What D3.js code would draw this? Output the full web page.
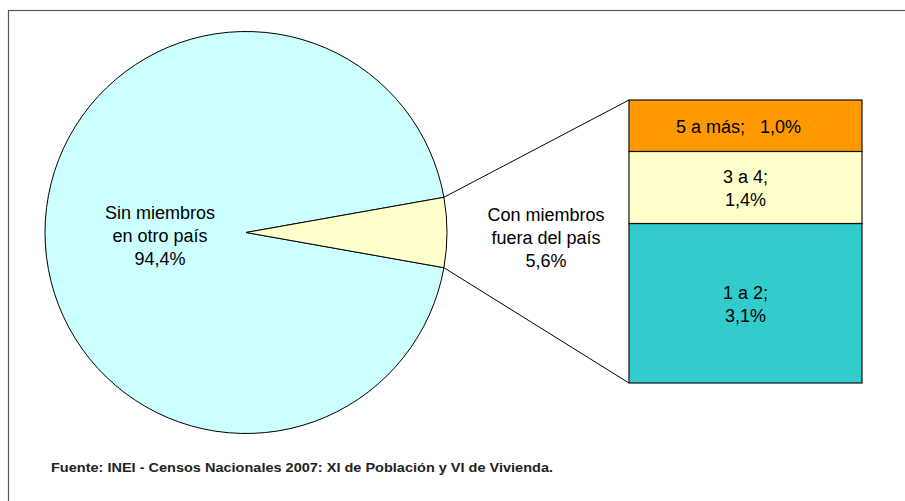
<!DOCTYPE html>
<html>
<head>
<meta charset="utf-8">
<script src="https://cdn.jsdelivr.net/npm/d3@7"></script>
<style>
  html, body { margin: 0; padding: 0; background: #fff; }
  svg { display: block; }
  text { font-family: "Liberation Sans", Arial, sans-serif; fill: #000; }
</style>
</head>
<body>
<svg id="chart" width="905" height="501"></svg>
<script>
// ---- Data ----
const pieCategories = ["Sin miembros en otro país", "Con miembros fuera del país"];
const pieValues = [94.4, 5.6];
const pieLabelLines = [["Sin miembros", "en otro país", "94,4%"], ["Con miembros", "fuera del país", "5,6%"]];
const pieColors = ["#CCFFFF", "#FFFFCC"];

const barCategories = ["1 a 2", "3 a 4", "5 a más"];
const barValues = [3.1, 1.4, 1.0];
const barLabelLines = [["1 a 2;", "3,1%"], ["3 a 4;", "1,4%"], ["5 a más;   1,0%"]];
const barColors = ["#33CCCC", "#FFFFCC", "#FF9900"];

const sourceText = "Fuente: INEI - Censos Nacionales 2007: XI de Población y VI de Vivienda.";

// ---- Layout ----
const svg = d3.select("#chart");
const W = 905, H = 501;

// outer frame (right/bottom edges fall outside the view)
svg.append("rect")
  .attr("x", 8.5).attr("y", 10.5)
  .attr("width", W).attr("height", H)
  .attr("fill", "none").attr("stroke", "#555").attr("stroke-width", 1.2);

const cx = 246, cy = 232.5, R = 201;
const total = d3.sum(pieValues);
const smallFrac = pieValues[1] / total;
const start = Math.PI / 2 + smallFrac * Math.PI;

const pie = d3.pie().sort(null).startAngle(start).endAngle(start + 2 * Math.PI);
const arcs = pie(pieValues);
const arcGen = d3.arc().innerRadius(0).outerRadius(R);

const gPie = svg.append("g").attr("transform", `translate(${cx},${cy})`);
gPie.selectAll("path").data(arcs).enter().append("path")
  .attr("d", arcGen)
  .attr("fill", (d, i) => pieColors[i])
  .attr("stroke", "#000").attr("stroke-width", 1);

// ---- Stacked bar ----
const barX0 = 629, barX1 = 862;
const barSum = d3.sum(barValues);
const y = d3.scaleLinear().domain([0, barSum]).range([383, 100]);
let cum = 0;
const segs = barValues.map((v, i) => { const s = { i, v, y0: cum, y1: cum + v }; cum += v; return s; });

const gBar = svg.append("g");
gBar.selectAll("rect").data(segs).enter().append("rect")
  .attr("x", barX0).attr("width", barX1 - barX0)
  .attr("y", d => y(d.y1)).attr("height", d => y(d.y0) - y(d.y1))
  .attr("fill", d => barColors[d.i])
  .attr("stroke", "#111").attr("stroke-width", 1.2);

// connector lines
const small = arcs[1];
const pt = a => [cx + R * Math.sin(a), cy - R * Math.cos(a)];
const pUp = pt(small.startAngle), pDown = pt(small.endAngle);
svg.append("line")
  .attr("x1", pUp[0]).attr("y1", pUp[1]).attr("x2", barX0).attr("y2", y(barSum))
  .attr("stroke", "#000").attr("stroke-width", 1);
svg.append("line")
  .attr("x1", pDown[0]).attr("y1", pDown[1]).attr("x2", barX0).attr("y2", y(0))
  .attr("stroke", "#000").attr("stroke-width", 1);

// ---- Labels ----
const FS = 18, LH = 23.3, K = 7;
function multiLine(g, x, yc, lines) {
  const t = g.append("text")
    .attr("text-anchor", "middle")
    .attr("font-size", FS)
    .attr("xml:space", "preserve")
    .style("white-space", "pre");
  const n = lines.length;
  lines.forEach((ln, j) => {
    t.append("tspan").attr("x", x)
      .attr("y", yc + K + (j - (n - 1) / 2) * LH)
      .text(ln);
  });
}
multiLine(svg, 160, cy + 2.5, pieLabelLines[0]);
multiLine(svg, 546, 244 - K, pieLabelLines[1]);

const barMid = (barX0 + barX1) / 2;
segs.forEach(d => {
  const xc = d.i === 2 ? barMid - 7 : barMid;
  multiLine(svg, xc, (y(d.y0) + y(d.y1)) / 2, barLabelLines[d.i]);
});

// source note
svg.append("text")
  .attr("x", 51).attr("y", 471.5)
  .attr("font-size", 12.5)
  .attr("font-weight", "bold")
  .style("font-family", '"Liberation Sans Narrow", "Liberation Sans", Arial, sans-serif')
  .style("fill", "#222")
  .attr("textLength", 502).attr("lengthAdjust", "spacingAndGlyphs")
  .text(sourceText);
</script>
</body>
</html>
